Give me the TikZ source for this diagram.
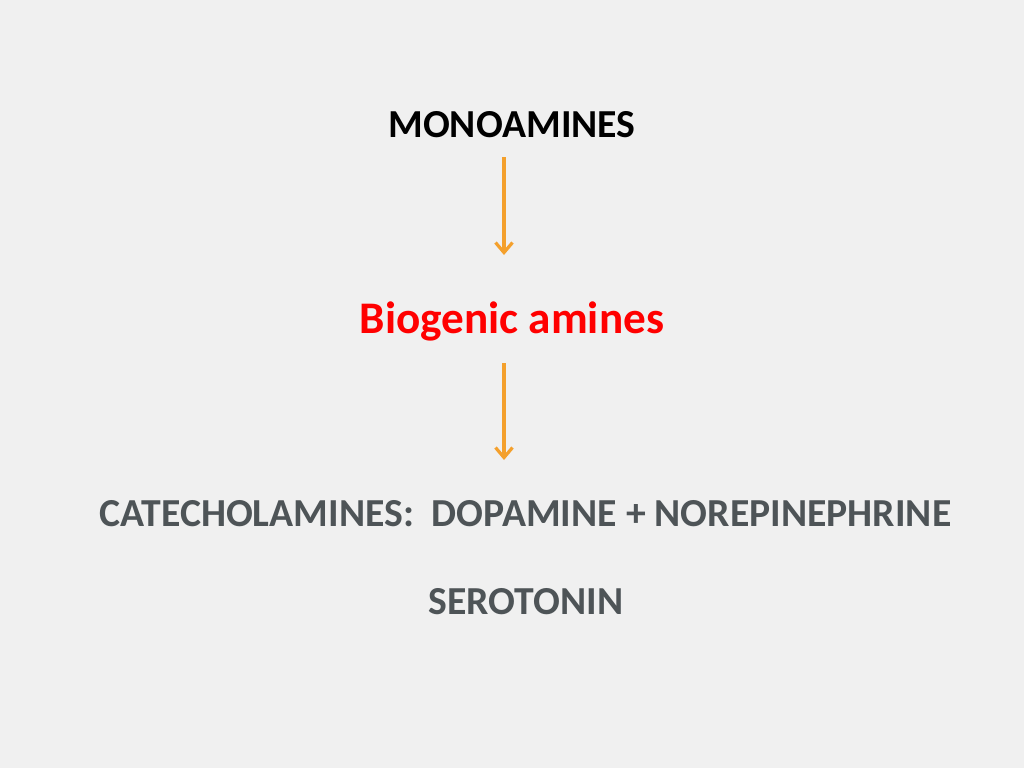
\documentclass[tikz,border=0pt]{standalone}
\usepackage{fontspec}
\setmainfont{Carlito}
\usetikzlibrary{arrows.meta}
\definecolor{bg}{HTML}{F0F0F0}
\definecolor{arr}{HTML}{F4A02C}
\definecolor{txtgray}{HTML}{4E5457}
\definecolor{redtxt}{HTML}{FF0000}
\tikzset{
  x=1pt, y=-1pt,
  lbl/.style={anchor=base, inner sep=0pt, font=\bfseries\fontsize{39.7}{42}\selectfont},
  conn/.style={draw=arr, line width=3.2pt, -{Straight Barb[length=10pt, width=17pt]}}
}
\begin{document}
\begin{tikzpicture}
\fill[bg] (0,0) rectangle (1024,768);
\useasboundingbox (0,0) rectangle (1024,768);
\node[lbl, text=black] (mono) at (512,137) {MONOAMINES};
\node[lbl, text=redtxt, font=\bfseries\fontsize{45.2}{47}\selectfont] (bio) at (512,333) {Biogenic amines};
\node[lbl, text=txtgray] (cat) at (525.5,526) {CATECHOLAMINES:\ \ DOPAMINE + NOREPINEPHRINE};
\node[lbl, text=txtgray] (sero) at (526,614) {SEROTONIN};
\coordinate (a1s) at (504,157);
\coordinate (a1e) at (504,255);
\coordinate (a2s) at (504,363);
\coordinate (a2e) at (504,460);
\draw[conn] (a1s) -- (a1e);
\draw[conn] (a2s) -- (a2e);
\end{tikzpicture}
\end{document}
